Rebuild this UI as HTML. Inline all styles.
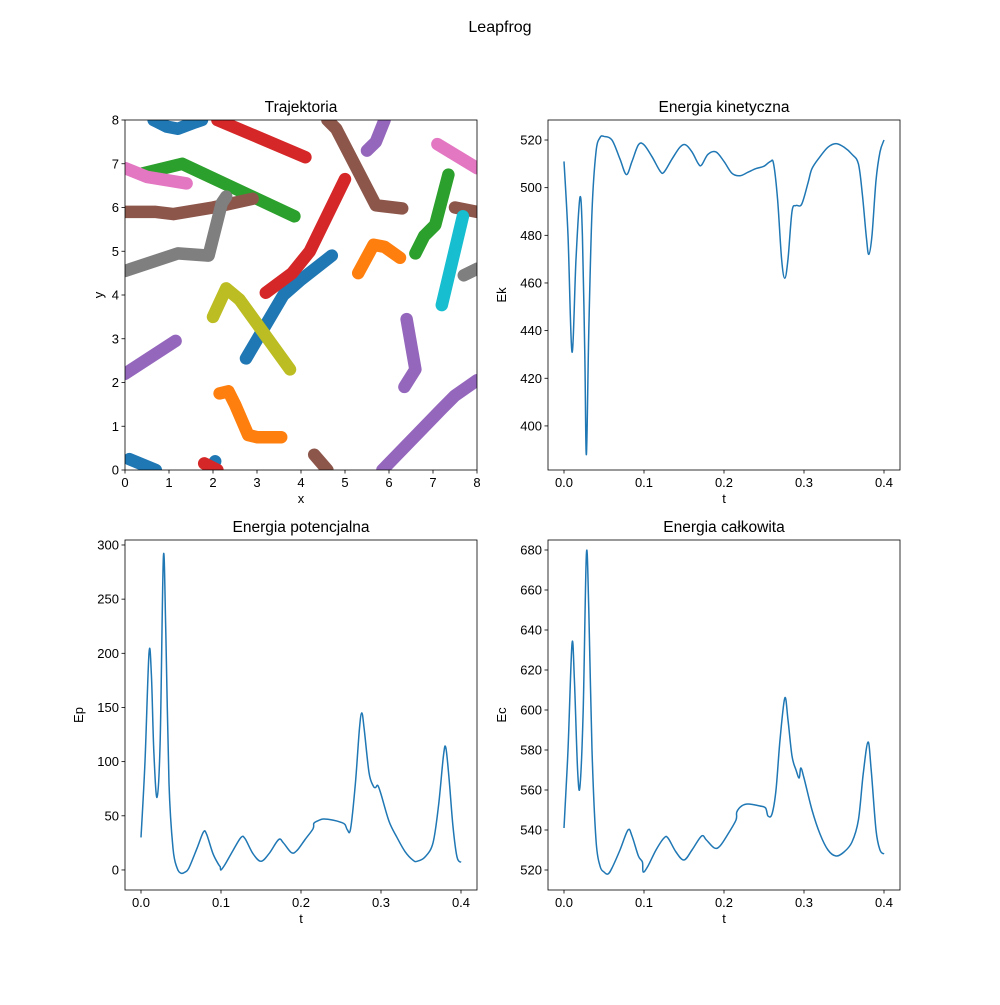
<!DOCTYPE html>
<html><head><meta charset="utf-8"><style>
body{margin:0;background:#fff}
svg text{font-family:"Liberation Sans","DejaVu Sans",sans-serif;fill:#000}
</style></head><body>
<svg id="fig" width="1000" height="1000" xmlns="http://www.w3.org/2000/svg">
<text x="500" y="32" font-size="16" text-anchor="middle">Leapfrog</text>
</svg>
<script>
const trajColors = ['#1f77b4','#ff7f0e','#2ca02c','#d62728','#9467bd','#8c564b','#e377c2','#7f7f7f','#bcbd22','#17becf'];
const trajPaths = [
 [0,[[0.65,8],[0.95,7.85],[1.2,7.8],[1.6,7.95],[1.75,8]]],
 [0,[[0.1,0.25],[0.7,0]]],
 [0,[[1.9,0],[2.05,0.2]]],
 [0,[[2.75,2.55],[3.6,4.0],[4.0,4.35],[4.7,4.9]]],
 [1,[[2.15,1.75],[2.35,1.8],[2.5,1.5],[2.8,0.8],[3.0,0.75],[3.55,0.75]]],
 [1,[[5.3,4.5],[5.65,5.15],[5.9,5.1],[6.25,4.85]]],
 [2,[[0.4,6.78],[1.3,7.0],[3.85,5.8]]],
 [2,[[6.6,4.95],[6.8,5.35],[7.05,5.6],[7.35,6.75]]],
 [3,[[2.1,8],[4.1,7.15]]],
 [3,[[3.2,4.05],[3.8,4.5],[4.2,5.0],[5.0,6.65]]],
 [3,[[1.8,0.15],[2.1,0]]],
 [4,[[0,2.2],[1.15,2.95]]],
 [4,[[6.4,3.45],[6.6,2.3],[6.35,1.9]]],
 [4,[[5.5,7.3],[5.7,7.5],[5.9,8]]],
 [4,[[5.85,0],[7.2,1.4],[7.5,1.7],[8,2.05]]],
 [5,[[0,5.9],[0.7,5.9],[1.1,5.85],[2.0,6.0],[2.9,6.2]]],
 [5,[[4.6,8],[4.8,7.8],[5.7,6.05],[6.3,5.98]]],
 [5,[[4.3,0.35],[4.6,0.0]]],
 [5,[[7.5,6.0],[8,5.9]]],
 [6,[[0,6.9],[0.5,6.7],[1.4,6.55]]],
 [6,[[7.1,7.45],[8,6.9]]],
 [7,[[0,4.55],[1.2,4.95],[1.9,4.9],[2.2,6.1],[2.3,6.25]]],
 [7,[[7.7,4.45],[8,4.6]]],
 [8,[[2.0,3.5],[2.3,4.15],[2.6,3.9],[3.75,2.3]]],
 [9,[[7.2,3.77],[7.68,5.8]]]
];
const ekT=[0,0.005,0.01,0.015,0.02,0.023,0.026,0.028,0.031,0.035,0.04,0.045,0.05,0.06,0.07,0.078,0.085,0.093,0.1,0.11,0.12,0.125,0.135,0.145,0.152,0.16,0.168,0.172,0.18,0.19,0.2,0.21,0.22,0.23,0.24,0.25,0.258,0.262,0.267,0.272,0.276,0.28,0.285,0.29,0.297,0.305,0.31,0.32,0.33,0.34,0.35,0.36,0.368,0.373,0.378,0.381,0.385,0.39,0.395,0.4];
const ekV=[511,480,431,470,496,480,430,388,440,490,515,521,521.5,520,512,505.5,511,518,518,513,507,506.5,512,517,518,515,510,509.5,514,515,511,506,505,506.5,508,509,511,510,495,470,462,470,490,492.5,493,502,508,513,517,518.5,517,514,510,497,479,472,480,503,515,520];
const epT=[0,0.005,0.01,0.013,0.016,0.02,0.024,0.028,0.031,0.035,0.04,0.045,0.05,0.055,0.06,0.07,0.078,0.082,0.09,0.097,0.099,0.1,0.105,0.115,0.125,0.13,0.14,0.15,0.16,0.172,0.178,0.188,0.195,0.205,0.215,0.216,0.22,0.228,0.24,0.25,0.255,0.258,0.262,0.268,0.273,0.276,0.279,0.285,0.29,0.293,0.296,0.3,0.31,0.32,0.33,0.34,0.345,0.355,0.365,0.372,0.378,0.381,0.385,0.39,0.395,0.4];
const epV=[30,100,200,180,110,67,120,289,220,80,20,2,-3,-2,2,20,35,33,15,5,3,0,5,18,30,29,15,8,15,28,25,16,18,28,38,43,45,47,46,44,42,37,38,80,130,145,130,90,78,76,78,70,45,30,17,9,8,12,25,60,105,113,85,40,12,7];
const ecT=[0,0.005,0.01,0.013,0.017,0.02,0.024,0.028,0.031,0.035,0.04,0.045,0.05,0.055,0.06,0.07,0.08,0.085,0.093,0.098,0.099,0.105,0.115,0.125,0.13,0.14,0.15,0.16,0.172,0.178,0.188,0.195,0.205,0.215,0.216,0.222,0.23,0.245,0.252,0.255,0.26,0.265,0.27,0.276,0.28,0.285,0.29,0.294,0.296,0.3,0.31,0.32,0.33,0.34,0.35,0.36,0.368,0.374,0.38,0.384,0.39,0.395,0.4];
const ecV=[541,580,633,615,570,562,600,678,650,580,535,522,519,518,521,530,540,537,527,524,519,522,530,536,536,529,525,530,537,535,531,532,538,545,549,552,553,552,551,547,548,560,585,606,595,577,570,566,571,566,550,538,530,527,529,534,545,568,584,570,540,530,528];
const tTicks=[0,0.1,0.2,0.3,0.4];
const posTicks=[0,1,2,3,4,5,6,7,8];
const ekTicks=[400,420,440,460,480,500,520];
const epTicks=[0,50,100,150,200,250,300];
const ecTicks=[520,540,560,580,600,620,640,660,680];

const NS='http://www.w3.org/2000/svg';
const svg=document.getElementById('fig');
function mk(tag,attrs,parent){const e=document.createElementNS(NS,tag);for(const k in attrs)e.setAttribute(k,attrs[k]);(parent||svg).appendChild(e);return e;}
function panel(name,L,T,W,H,x0,x1,y0,y1,xt,yt,xfmt,title,xl,yl,draw){
  const g=mk('g',{});
  
  
  const sx=v=>L+(v-x0)/(x1-x0)*W, sy=v=>T+H-(v-y0)/(y1-y0)*H;
  const cp=mk('clipPath',{id:'c'+name},g);mk('rect',{x:L,y:T,width:W,height:H},cp);
  const pg=mk('g',{'clip-path':'url(#c'+name+')'},g);
  draw(pg,sx,sy);
  const fr=mk('rect',{x:L,y:T,width:W,height:H,fill:'none',stroke:'#000','stroke-width':0.8},g);
  
  
  xt.forEach(v=>{const x=sx(v);mk('line',{x1:x,x2:x,y1:T+H,y2:T+H+3.5,stroke:'#000','stroke-width':0.8},g);
    const t=mk('text',{x:x,y:T+H+17,'font-size':13,'text-anchor':'middle'},g);t.textContent=xfmt(v);
    
    });
  yt.forEach(v=>{const y=sy(v);mk('line',{x1:L-3.5,x2:L,y1:y,y2:y,stroke:'#000','stroke-width':0.8},g);
    const t=mk('text',{x:L-6,y:y+4.5,'font-size':13,'text-anchor':'end'},g);t.textContent=String(v);
    
    });
  const tt=mk('text',{x:L+W/2,y:T-8,'font-size':15.5,'text-anchor':'middle'},g);tt.textContent=title;
  
  
  const xlab=mk('text',{x:L+W/2,y:T+H+33,'font-size':13,'text-anchor':'middle'},g);xlab.textContent=xl;
  
  
  const yx=L-(yl==='y'?22:42), yy=T+H/2;
  const ylab=mk('text',{x:yx,y:yy,'font-size':13,'text-anchor':'middle',transform:'rotate(-90 '+yx+' '+yy+')'},g);ylab.textContent=yl;
  
  
}
function smoothPath(P){
  let d='M'+P[0][0].toFixed(2)+','+P[0][1].toFixed(2);
  for(let i=0;i<P.length-1;i++){
    const p0=P[Math.max(0,i-1)],p1=P[i],p2=P[i+1],p3=P[Math.min(P.length-1,i+2)];
    const c1=[p1[0]+(p2[0]-p0[0])/6,p1[1]+(p2[1]-p0[1])/6];
    const c2=[p2[0]-(p3[0]-p1[0])/6,p2[1]-(p3[1]-p1[1])/6];
    d+='C'+c1[0].toFixed(2)+','+c1[1].toFixed(2)+' '+c2[0].toFixed(2)+','+c2[1].toFixed(2)+' '+p2[0].toFixed(2)+','+p2[1].toFixed(2);
  }
  return d;
}
function line(pg,sx,sy,T,V,name){
  const P=T.map((t,i)=>[sx(t),sy(V[i])]);
  const p=mk('path',{d:smoothPath(P),fill:'none',stroke:'#1f77b4','stroke-width':1.5,'stroke-linejoin':'round'},pg);
  
  
}
const tf=v=>v===0?'0.0':String(v);
panel('trajectory',125,120,352,350,0,8,0,8,posTicks,posTicks,String,'Trajektoria','x','y',(pg,sx,sy)=>{
  trajPaths.forEach(([c,pts])=>{
    const d=pts.map((p,i)=>(i?'L':'M')+sx(p[0]).toFixed(1)+','+sy(p[1]).toFixed(1)).join('');
    const p=mk('path',{d:d,fill:'none',stroke:trajColors[c],'stroke-width':12.5,'stroke-linecap':'round','stroke-linejoin':'round'},pg);
    
    
  });
});
panel('kinetic',548,120,352,350,-0.02,0.42,381.5,528.4,tTicks,ekTicks,tf,'Energia kinetyczna','t','Ek',(pg,sx,sy)=>line(pg,sx,sy,ekT,ekV,'ek-line'));
panel('potential',125,540,352,350,-0.02,0.42,-18.5,304.6,tTicks,epTicks,tf,'Energia potencjalna','t','Ep',(pg,sx,sy)=>line(pg,sx,sy,epT,epV,'ep-line'));
panel('total',548,540,352,350,-0.02,0.42,510,685,tTicks,ecTicks,tf,'Energia całkowita','t','Ec',(pg,sx,sy)=>line(pg,sx,sy,ecT,ecV,'ec-line'));
</script>
</body></html>
